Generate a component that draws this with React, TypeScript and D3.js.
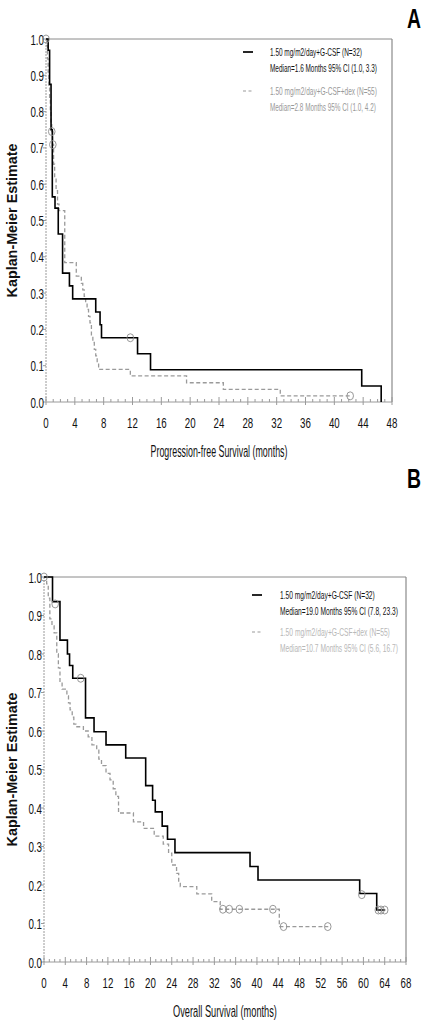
import React from "react";
import * as d3 from "d3";

// ---------- Data ----------
// Panel A: Progression-free survival
const pfsGcsfTimes = [0, 0.3, 0.5, 0.7, 0.875, 1.25, 1.7, 2.3, 3.25, 3.7, 6.9, 7.5, 7.7, 12.7, 14.5, 43.8, 46.5];
const pfsGcsfSurv = [1.0, 0.969, 0.875, 0.75, 0.565, 0.534, 0.463, 0.355, 0.32, 0.284, 0.248, 0.213, 0.177, 0.133, 0.089, 0.044, 0.0];
const pfsGcsfCensorTimes = [11.7];
const pfsGcsfCensorSurv = [0.177];

const pfsDexTimes = [0, 0.1, 0.2, 0.3, 0.4, 0.5, 0.6, 0.7, 0.8, 0.95, 1.05, 1.2, 1.4, 1.6, 1.8, 2.6, 4.2, 4.9, 5.1, 5.3, 5.5, 5.7, 5.9, 6.1, 6.3, 6.5, 6.7, 6.9, 7.1, 7.3, 11.7, 19.5, 24.6, 32.5, 42.2];
const pfsDexSurv = [1.0, 0.982, 0.945, 0.909, 0.873, 0.836, 0.8, 0.764, 0.745, 0.709, 0.655, 0.618, 0.582, 0.545, 0.527, 0.384, 0.347, 0.327, 0.309, 0.291, 0.273, 0.255, 0.236, 0.218, 0.182, 0.164, 0.145, 0.127, 0.109, 0.09, 0.072, 0.053, 0.035, 0.017, 0.017];
const pfsDexCensorTimes = [0, 0.8, 0.95, 42.2];
const pfsDexCensorSurv = [1.0, 0.745, 0.709, 0.017];

// Panel B: Overall survival
const osGcsfTimes = [0, 1.6, 3.0, 4.4, 4.8, 5.4, 7.8, 9.4, 11.65, 15.35, 19.1, 20.4, 20.9, 22.2, 23.2, 24.6, 38.7, 40.2, 59.3, 62.5, 64.1];
const osGcsfSurv = [1.0, 0.936, 0.836, 0.8, 0.77, 0.737, 0.634, 0.598, 0.564, 0.53, 0.458, 0.42, 0.39, 0.353, 0.319, 0.284, 0.248, 0.213, 0.178, 0.135, 0.135];
const osGcsfCensorTimes = [2.1, 6.9, 59.7, 62.8, 63.3, 64.0];
const osGcsfCensorSurv = [0.93, 0.737, 0.175, 0.135, 0.135, 0.135];

const osDexTimes = [0, 0.5, 0.8, 1.1, 1.5, 1.9, 2.4, 2.7, 3.0, 3.4, 4.3, 4.6, 4.9, 5.3, 5.6, 6.0, 7.4, 8.3, 9.0, 9.9, 10.3, 10.8, 11.65, 12.4, 13.0, 13.5, 14.0, 16.8, 18.7, 20.7, 22.4, 23.4, 24.0, 24.9, 25.3, 25.6, 28.7, 31.5, 33.1, 44.2, 53.4];
const osDexSurv = [1.0, 0.982, 0.945, 0.891, 0.873, 0.855, 0.8, 0.764, 0.727, 0.709, 0.691, 0.673, 0.655, 0.636, 0.618, 0.611, 0.6, 0.585, 0.564, 0.55, 0.527, 0.51, 0.49, 0.473, 0.45, 0.43, 0.387, 0.364, 0.347, 0.327, 0.306, 0.283, 0.252, 0.23, 0.21, 0.196, 0.177, 0.157, 0.137, 0.092, 0.092];
const osDexCensorTimes = [0, 33.6, 34.8, 36.7, 43.0, 45.0, 53.3];
const osDexCensorSurv = [1.0, 0.137, 0.137, 0.137, 0.137, 0.092, 0.092];

const yTicks = [0, 0.1, 0.2, 0.3, 0.4, 0.5, 0.6, 0.7, 0.8, 0.9, 1.0];
const pfsXTicks = [0, 4, 8, 12, 16, 20, 24, 28, 32, 36, 40, 44, 48];
const osXTicks = [0, 4, 8, 12, 16, 20, 24, 28, 32, 36, 40, 44, 48, 52, 56, 60, 64, 68];

const pfsLegend = [
  "1.50 mg/m2/day+G-CSF (N=32)",
  "Median=1.6 Months 95% CI (1.0, 3.3)",
  "1.50 mg/m2/day+G-CSF+dex (N=55)",
  "Median=2.8 Months 95% CI (1.0, 4.2)",
];
const osLegend = [
  "1.50 mg/m2/day+G-CSF (N=32)",
  "Median=19.0 Months 95% CI (7.8, 23.3)",
  "1.50 mg/m2/day+G-CSF+dex (N=55)",
  "Median=10.7 Months 95% CI (5.6, 16.7)",
];

const FONT = "'Liberation Sans', Arial, sans-serif";

let ctx: CanvasRenderingContext2D | null = null;
function measure(s: string, size: number, weight: string) {
  if (!ctx) {
    const c = document.createElement("canvas");
    ctx = c.getContext("2d");
  }
  if (!ctx) return s.length * size * 0.5;
  ctx.font = `${weight} ${size}px 'Liberation Sans', Arial, sans-serif`;
  return ctx.measureText(s).width;
}

// narrow text: squeeze horizontally to a given width via a scale transform
function NT(props: {
  x: number; y: number; len: number; size: number; anchor?: string; fill?: string; weight?: string; text: string; rotate?: boolean;
}) {
  const weight = props.weight || "normal";
  const nat = measure(props.text, props.size, weight);
  const sx = nat > 0 ? props.len / nat : 1;
  const tr = props.rotate
    ? `translate(${props.x},${props.y}) rotate(-90) scale(${sx},1)`
    : `translate(${props.x},${props.y}) scale(${sx},1)`;
  return (
    <text
      x={0}
      y={0}
      transform={tr}
      textAnchor={props.anchor || "start"}
      fontFamily={FONT}
      fontSize={props.size}
      fontWeight={weight}
      fill={props.fill || "#111"}
    >
      {props.text}
    </text>
  );
}

function numLen(s: string) {
  let w = 0;
  for (const ch of s) w += ch === "." ? 2.8 : 5.4;
  return w;
}

type PanelProps = {
  x0: number; x1: number; yTop: number; yBottom: number; xMax: number;
  xTicks: number[];
  s1: [number[], number[]]; s2: [number[], number[]];
  c1: [number[], number[]]; c2: [number[], number[]];
  legend: string[]; legendLens: number[];
  legendX: number; legendY: number; legendTextX: number; legendGap2: number;
  xLabel: string; xLabelLen: number;
  letter: string; letterY: number;
  secondGray: string;
};

function zip(a: number[], b: number[]): [number, number][] {
  return a.map((t, i) => [t, b[i]]);
}

function Panel(p: PanelProps) {
  const x = d3.scaleLinear().domain([0, p.xMax]).range([p.x0, p.x1]);
  const y = d3.scaleLinear().domain([0, 1]).range([p.yBottom, p.yTop]);
  const line = d3.line<[number, number]>().x((d) => x(d[0])).y((d) => y(d[1])).curve(d3.curveStepAfter);
  const minor = d3.range(0, p.xMax + 0.001, 1);
  const d1 = zip(p.s1[0], p.s1[1]);
  const d2 = zip(p.s2[0], p.s2[1]);
  const cc1 = zip(p.c1[0], p.c1[1]);
  const cc2 = zip(p.c2[0], p.c2[1]);
  const axisColor = "#9a9a9a";
  const midY = (p.yTop + p.yBottom) / 2;
  return (
    <g>
      {/* frame */}
      <line x1={p.x0} x2={p.x1} y1={p.yTop} y2={p.yTop} stroke="#8a8a8a" strokeWidth={1} />
      <line x1={p.x1} x2={p.x1} y1={p.yTop} y2={p.yBottom} stroke="#8a8a8a" strokeWidth={1.2} />
      <line x1={p.x0} x2={p.x0} y1={p.yTop} y2={p.yBottom} stroke={axisColor} strokeWidth={1} strokeDasharray="2,1" />
      <line x1={p.x0} x2={p.x1} y1={p.yBottom} y2={p.yBottom} stroke={axisColor} strokeWidth={1} />
      {/* y ticks */}
      {yTicks.map((t) => (
        <g key={"y" + t}>
          <line x1={p.x0 - 3} x2={p.x0} y1={y(t)} y2={y(t)} stroke={axisColor} />
          <NT x={p.x0 - 2} y={y(t) + 5.5} len={numLen(t.toFixed(1))} size={15} anchor="end" text={t.toFixed(1)} />
        </g>
      ))}
      {/* x minor ticks */}
      {minor.map((t) => (
        <line key={"m" + t} x1={x(t)} x2={x(t)} y1={p.yBottom} y2={p.yBottom - (t % 4 === 0 ? 5 : 3)} stroke={axisColor} />
      ))}
      {p.xTicks.map((t) => (
        <g key={"x" + t}>
          <line x1={x(t)} x2={x(t)} y1={p.yBottom} y2={p.yBottom + 3} stroke={axisColor} />
          <NT x={x(t)} y={p.yBottom + 26} len={numLen(String(t))} size={15} anchor="middle" text={String(t)} />
        </g>
      ))}
      {/* curves */}
      <path d={line(d2) || ""} fill="none" stroke="#9a9a9a" strokeWidth={1.3} strokeDasharray="4,2.5" />
      <path d={line(d1) || ""} fill="none" stroke="#000" strokeWidth={1.6} />
      {cc1.concat(cc2).map((c, i) => (
        <ellipse key={"c" + i} cx={x(c[0])} cy={y(c[1])} rx={3.3} ry={4} fill="none" stroke="#8c8c8c" strokeWidth={0.9} />
      ))}
      {/* legend */}
      <line x1={p.legendX} x2={p.legendX + 10} y1={p.legendY} y2={p.legendY} stroke="#000" strokeWidth={1.7} />
      <NT x={p.legendTextX} y={p.legendY + 4} len={p.legendLens[0]} size={11} text={p.legend[0]} />
      <NT x={p.legendTextX} y={p.legendY + 19.5} len={p.legendLens[1]} size={11} text={p.legend[1]} />
      <line x1={p.legendX} x2={p.legendX + 10} y1={p.legendY + p.legendGap2} y2={p.legendY + p.legendGap2} stroke="#9a9a9a" strokeWidth={1.2} strokeDasharray="3,2.5" />
      <NT x={p.legendTextX} y={p.legendY + p.legendGap2 + 4} len={p.legendLens[2]} size={11} fill={p.secondGray} text={p.legend[2]} />
      <NT x={p.legendTextX} y={p.legendY + p.legendGap2 + 19.5} len={p.legendLens[3]} size={11} fill={p.secondGray} text={p.legend[3]} />
      {/* axis labels */}
      <NT x={(p.x0 + p.x1) / 2} y={p.yBottom + 55} len={p.xLabelLen} size={16} anchor="middle" text={p.xLabel} />
      <NT x={17} y={midY} len={154} size={14} weight="bold" anchor="middle" rotate={true} text="Kaplan-Meier Estimate" />
      <NT x={421} y={p.letterY} len={14} size={28} weight="bold" anchor="end" fill="#000" text={p.letter} />
    </g>
  );
}

export default function App() {
  return (
    <svg width={422} height={1020} style={{ position: "absolute", left: 0, top: 0, background: "#fff" }}>
      <rect x={0} y={0} width={422} height={1020} fill="#fff" />
      <Panel
        x0={46} x1={392} yTop={39} yBottom={402} xMax={48} xTicks={pfsXTicks}
        s1={[pfsGcsfTimes, pfsGcsfSurv]} s2={[pfsDexTimes, pfsDexSurv]}
        c1={[pfsGcsfCensorTimes, pfsGcsfCensorSurv]} c2={[pfsDexCensorTimes, pfsDexCensorSurv]}
        legend={pfsLegend} legendLens={[92, 107, 107, 106]} legendX={243} legendY={52} legendTextX={270} legendGap2={39}
        xLabel="Progression-free Survival (months)" xLabelLen={137} letter="A" letterY={28} secondGray="#999"
      />
      <Panel
        x0={44} x1={406} yTop={577} yBottom={962} xMax={68} xTicks={osXTicks}
        s1={[osGcsfTimes, osGcsfSurv]} s2={[osDexTimes, osDexSurv]}
        c1={[osGcsfCensorTimes, osGcsfCensorSurv]} c2={[osDexCensorTimes, osDexCensorSurv]}
        legend={osLegend} legendLens={[95, 118, 110, 118]} legendX={252} legendY={595} legendTextX={280} legendGap2={37}
        xLabel="Overall Survival (months)" xLabelLen={104} letter="B" letterY={488} secondGray="#b8b8b8"
      />
    </svg>
  );
}
